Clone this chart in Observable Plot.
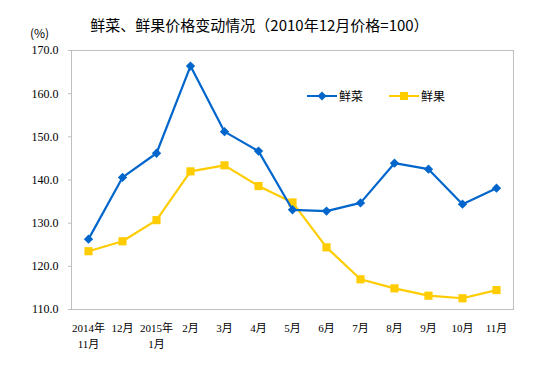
<!DOCTYPE html>
<html><head><meta charset="utf-8">
<script src="https://cdn.jsdelivr.net/npm/d3@7"></script>
<script src="https://cdn.jsdelivr.net/npm/@observablehq/plot@0.6"></script>
<style>
body{margin:0;background:#fff;}
#wrap{position:relative;width:551px;height:378px;font-family:"Noto Sans CJK SC",sans-serif;}
#title{position:absolute;left:0;width:519px;top:14px;text-align:center;font-size:15px;color:#000;white-space:nowrap;}
#unit{position:absolute;left:30px;top:24px;font-size:12px;color:#000;}
#legend{position:absolute;left:307px;top:87px;font-size:12px;display:flex;align-items:center;}
.li{display:flex;align-items:center;margin-right:26px;}
.sw{position:relative;width:30px;height:10px;margin-right:2px;}
.sw .ln{position:absolute;left:0;right:0;top:4px;height:2.5px;}
.sw .mk{position:absolute;left:11px;top:1px;width:8px;height:8px;}
</style></head>
<body><div id="wrap">
<div id="title">鲜菜、鲜果价格变动情况（2010年12月价格=100）</div>
<div id="unit">(%)</div>
<div id="legend"></div>
<div id="chart"></div>
</div>
<script>
const categories = ["2014年\n11月","12月","2015年\n1月","2月","3月","4月","5月","6月","7月","8月","9月","10月","11月"];
const vegetables = [126.3,140.6,146.2,166.4,151.2,146.7,133.1,132.8,134.7,143.9,142.5,134.4,138.1];
const fruits = [123.5,125.8,130.7,142.0,143.4,138.6,134.8,124.4,117.0,114.9,113.2,112.6,114.5];
const seriesNames = ["鲜菜","鲜果"];
const colors = ["#0066CC","#FFCC00"];
const yTicks = [110,120,130,140,150,160,170];

const data = [];
categories.forEach((c,i)=>{
  data.push({cat:c, v:vegetables[i], s:seriesNames[0]});
  data.push({cat:c, v:fruits[i], s:seriesNames[1]});
});
const vegData = data.filter(d=>d.s===seriesNames[0]);
const fruitData = data.filter(d=>d.s===seriesNames[1]);

const chart = Plot.plot({
  width:551, height:378,
  marginLeft:71, marginRight:38, marginTop:50, marginBottom:69,
  style:{fontFamily:'"Liberation Serif","Noto Sans CJK SC",serif', fontSize:"12px", color:"#000", background:"#fff"},
  x:{type:"point", domain:categories, padding:0.5},
  y:{domain:[110,170]},
  marks:[
    Plot.frame({stroke:"#bfbfbf", strokeWidth:1}),
    Plot.axisY({ticks:yTicks, tickFormat:d=>d.toFixed(1), tickSize:3, stroke:"#bfbfbf", tickPadding:10, label:null, fontSize:12}),
    Plot.axisX({tickSize:0, tickPadding:12, label:null, fontSize:11, lineHeight:1.4}),
    Plot.line(fruitData,{x:"cat", y:"v", stroke:colors[1], strokeWidth:2.2}),
    Plot.dot(fruitData,{x:"cat", y:"v", symbol:"square", fill:colors[1], r:4.6}),
    Plot.line(vegData,{x:"cat", y:"v", stroke:colors[0], strokeWidth:2.2}),
    Plot.dot(vegData,{x:"cat", y:"v", symbol:"diamond2", fill:colors[0], r:4.2})
  ]
});
document.getElementById("chart").appendChild(chart);

const lg = document.getElementById("legend");
seriesNames.forEach((n,i)=>{
  const it = document.createElement("div"); it.className="li";
  const rot = i===0 ? "transform:rotate(45deg) scale(0.8);" : "";
  it.innerHTML = `<div class="sw"><div class="ln" style="background:${colors[i]}"></div><div class="mk" style="background:${colors[i]};${rot}"></div></div><span>${n}</span>`;
  lg.appendChild(it);
});
</script>
</body></html>
